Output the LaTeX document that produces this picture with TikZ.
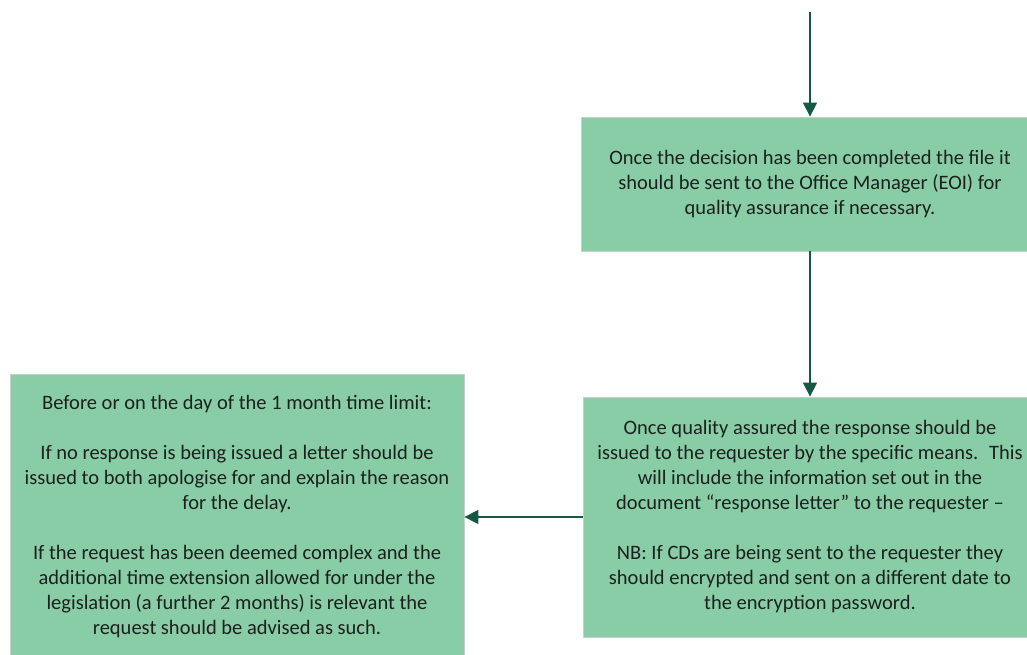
\documentclass[tikz,border=0pt]{standalone}
\usepackage{fontspec}
\setmainfont{Carlito}
\usetikzlibrary{arrows.meta}
\definecolor{boxfill}{RGB}{137,205,166}
\definecolor{boxedge}{RGB}{196,210,203}
\definecolor{linec}{RGB}{22,88,68}
\definecolor{txt}{RGB}{28,32,30}
\begin{document}
\begin{tikzpicture}[x=1pt,y=-1pt,
  box/.style={draw=boxedge, line width=0.8pt, fill=boxfill, minimum width=454pt,
    inner sep=0pt, text=txt, align=center, font=\fontsize{20.5}{25}\selectfont},
  conn/.style={draw=linec, line width=1.5pt, -{Triangle[width=14pt,length=14pt]}}]
\useasboundingbox (0,0) rectangle (1027,655);
\node[box, minimum width=458pt, minimum height=134pt] (b1) at (810,184)
  {Once the decision has been completed the file it\\
   should be sent to the Office Manager (EOI) for\\
   quality assurance if necessary.};
\node[box, minimum height=240pt] (b2) at (810,517)
  {Once quality assured the response should be\\
   issued to the requester by the specific means.~ This\\
   will include the information set out in the\\
   document “response letter” to the requester –\\[25pt]
   NB: If CDs are being sent to the requester they\\
   should encrypted and sent on a different date to\\
   the encryption password.};
\node[box, minimum height=286pt] (b3) at (237,517)
  {Before or on the day of the 1 month time limit:\\[25pt]
   If no response is being issued a letter should be\\
   issued to both apologise for and explain the reason\\
   for the delay.\\[25pt]
   If the request has been deemed complex and the\\
   additional time extension allowed for under the\\
   legislation (a further 2 months) is relevant the\\
   request should be advised as such.};
\coordinate (start) at (810,12);
\draw[conn] (start) -- (b1.north);
\draw[conn] (b1.south) -- (b2.north);
\draw[conn] (b2.west) -- (b3.east);
\end{tikzpicture}
\end{document}
